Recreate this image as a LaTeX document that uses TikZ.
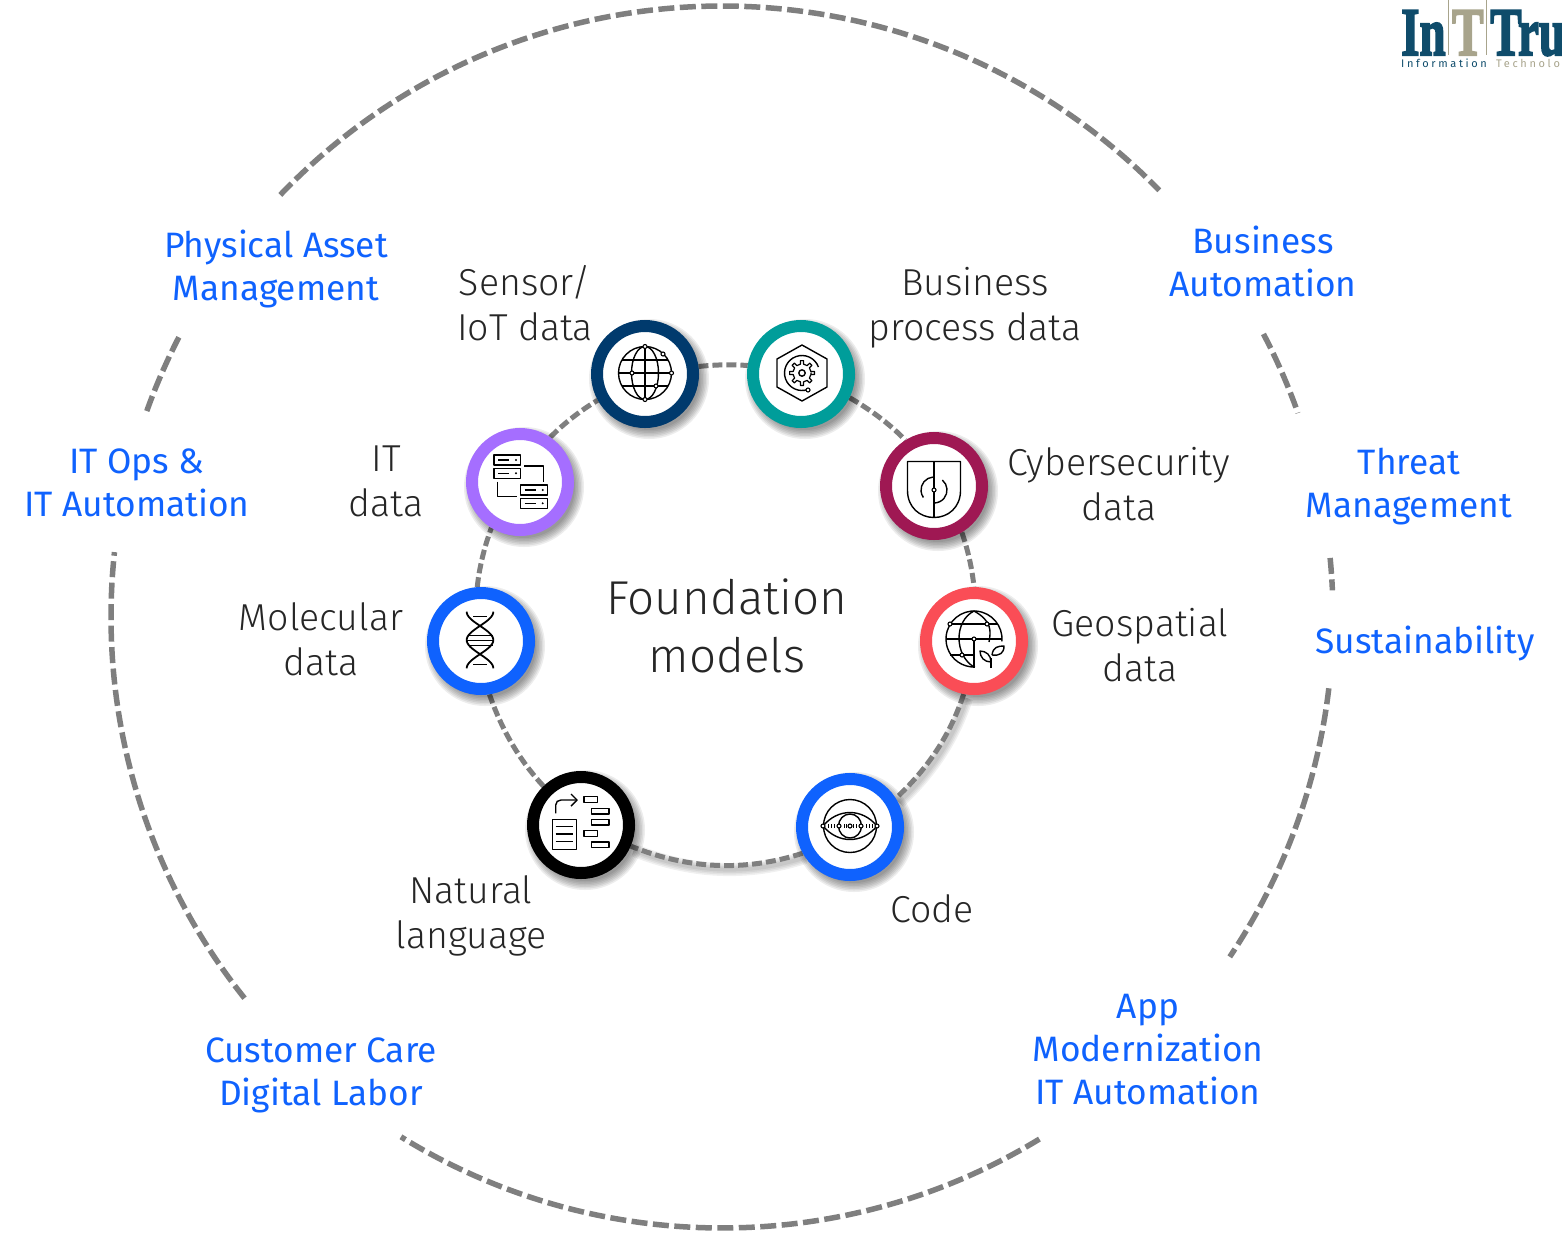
\documentclass[tikz,border=0pt]{standalone}
\usepackage{fontspec}
\setmainfont{Fira Sans}
\newfontfamily\lightf{Fira Sans Light}
\newfontfamily\logof[UprightFont=* Bold,FakeBold=3]{Liberation Serif}
\usetikzlibrary{backgrounds}
\definecolor{lblue}{HTML}{0F62FE}
\definecolor{ldark}{HTML}{262626}
\definecolor{dashgray}{HTML}{7F7F7F}
\definecolor{logoblue}{HTML}{0F4C6B}
\definecolor{logotan}{HTML}{A8A48C}
\definecolor{cnavy}{HTML}{003A6D}
\definecolor{cteal}{HTML}{009D9A}
\definecolor{cwine}{HTML}{9F1853}
\definecolor{ccoral}{HTML}{FA4D56}
\definecolor{cviolet}{HTML}{A56EFF}
\tikzset{
  x=1pt,y=-1pt,
  outerdash/.style={draw=dashgray,line width=5.5pt,dash pattern=on 16pt off 5.5pt},
  innerdash/.style={draw=dashgray,line width=5pt,dash pattern=on 10pt off 4pt},
  innershade/.style={draw=black,opacity=0.06,transform canvas={shift={(3pt,-4pt)}}},
  ringnode/.style={circle,draw=#1,line width=12pt,fill=white,minimum size=96pt,inner sep=0pt},
  bluelabel/.style={text=lblue,align=center,font=\fontsize{35.3}{43}\selectfont},
  darklabel/.style={text=ldark,align=center,font=\lightf\fontsize{37.5}{45}\selectfont},
  icon/.style={draw=black,line width=1.4pt,line join=round},
  dot/.style={draw=black,fill=white,line width=1.1pt},
}
\newcommand{\ringat}[4]{%
  \foreach \r in {60,58.5,...,50}{\fill[black,opacity=0.07] (#2+4,#3+5) circle[radius=\r pt];}
  \node[ringnode=#4] (#1) at (#2,#3) {};}
\newcommand{\srv}[2]{%
  \draw[icon] (#1,#2) rectangle ++(26.7,10);
  \draw[icon] (#1+4,#2+5) -- ++(11,0);
  \fill (#1+22,#2+5) circle[radius=1.1pt];}
\newcommand{\outerarc}[2]{%
  \draw[outerdash] ([shift={(#1:611pt)}]oc) arc[start angle=#1,end angle=#2,radius=611pt];}
\begin{document}
\begin{tikzpicture}
\useasboundingbox (0,0) rectangle (1562,1232);
\clip (0,0) rectangle (1562,1232);
\coordinate (oc) at (722,617);
% outer arcs
\outerarc{136.3}{44.3}
\outerarc{27.6}{19.5}
\outerarc{5.55}{2.5}
\outerarc{-6.7}{-33.8}
\outerarc{-58.7}{-121.7}
\outerarc{218.6}{173.9}
\outerarc{160.3}{152.4}
% rings
\ringat{n1}{645}{374}{cnavy}
\ringat{n2}{801}{374}{cteal}
\ringat{n3}{934}{486}{cwine}
\ringat{n4}{974}{641}{ccoral}
\ringat{n5}{850}{827}{lblue}
\ringat{n6}{581}{825}{black}
\ringat{n7}{481}{641}{lblue}
\ringat{n8}{520}{482}{cviolet}
% inner connectors
\begin{pgfonlayer}{background}
\foreach \w in {13,10,7,4}{
  \draw[innershade,line width=\w pt] (n4.-101) to[out=-108,in=43,looseness=0.89] (n5.32);
  \draw[innershade,line width=\w pt] (n5.209) to[out=-162,in=-22,looseness=0.91] (n6.-23);
}
\draw[innerdash] (n1.8) to[out=6,in=175,looseness=0.85] (n2.171);
\draw[innerdash] (n2.-26) to[out=-30,in=134,looseness=0.86] (n3.122);
\draw[innerdash] (n3.-59) to[out=-71,in=96,looseness=0.86] (n4.90);
\draw[innerdash] (n4.-101) to[out=-108,in=43,looseness=0.89] (n5.32);
\draw[innerdash] (n5.209) to[out=-162,in=-22,looseness=0.91] (n6.-23);
\draw[innerdash] (n6.134) to[out=133,in=289,looseness=0.87] (n7.-81);
\draw[innerdash] (n7.94) to[out=84,in=250,looseness=0.86] (n8.238);
\draw[innerdash] (n8.56) to[out=45,in=211,looseness=0.86] (n1.209);
\end{pgfonlayer}
% icon n1: globe
\draw[icon] (645,373) circle[radius=26.5pt];
\draw[icon] (645,373) ellipse[x radius=13.5pt,y radius=26.5pt];
\draw[icon] (645,346.5) -- (645,399.5);
\draw[icon] (618.5,373) -- (671.5,373);
\draw[icon] (622,360) -- (668,360);
\draw[icon] (622,386) -- (668,386);
\foreach \a/\b in {645/346.5,645/399.5,632/373,671.5/373,656/386,663/354}{\draw[dot] (\a,\b) circle[radius=2pt];}
% icon n2: hexagon and gear
\begin{scope}[shift={(802,373)}]
\draw[icon] (0,-28) -- (25,-14) -- (25,14) -- (0,28) -- (-25,14) -- (-25,-14) -- cycle;
\draw[icon,line width=1.2pt] (0:9pt) \foreach \a in {0,45,...,315}{ -- (\a-10:9pt) -- (\a-7:12.5pt) -- (\a+7:12.5pt) -- (\a+10:9pt) -- (\a+35:9pt)} -- cycle;
\draw[icon] (0,0) circle[radius=3.2pt];
\draw[icon] (-70:17.5pt) arc[start angle=-70,end angle=-340,radius=17.5pt];
\draw[dot] (6,17) circle[radius=2pt];
\end{scope}
% icon n3: shield
\begin{scope}[shift={(934,485.5)}]
\draw[icon] (-26.5,-24) -- (26.5,-24) -- (26.5,5) .. controls (26.5,22) and (14,32) .. (0,32) .. controls (-14,32) and (-26.5,22) .. (-26.5,5) -- cycle;
\draw[icon] (0,-24) -- (0,32);
\draw[icon] (0,4.5) ++(95:13pt) arc[start angle=95,end angle=215,radius=13pt];
\draw[icon] (0,4.5) ++(50:13pt) arc[start angle=50,end angle=-90,radius=13pt];
\draw[dot] (0,4.5) circle[radius=2pt];
\end{scope}
% icon n4: globe and leaf
\begin{scope}[shift={(974,639)}]
\draw[icon] (-5:28pt) arc[start angle=-5,end angle=272,radius=28pt];
\draw[icon] (0,-28) .. controls (-20,-18) and (-20,16) .. (0,28);
\draw[icon] (0,-28) .. controls (18,-18) and (17,-8) .. (15,3);
\draw[icon] (-28,0) -- (28,0);
\draw[icon] (-24,-15) -- (24,-15);
\draw[icon] (-24,16) -- (0,16);
\draw[icon] (0,0) -- (0,29);
\foreach \a/\b in {-24/-15,13/-15,0/0,-12/16}{\draw[dot] (\a,\b) circle[radius=2pt];}
\draw[icon] (17,29) -- (17,19);
\draw[icon] (17,23) .. controls (10,23) and (6,18) .. (6,12) .. controls (12,12) and (17,16) .. (17,23);
\draw[icon] (18,16) .. controls (19,8) and (24,7) .. (30,7) .. controls (30,14) and (26,17) .. (18,16);
\end{scope}
% icon n5: eye
\begin{scope}[shift={(850,826)}]
\draw[icon] (0,0) circle[radius=26.5pt];
\draw[icon] (-27,0) .. controls (-12,-18) and (12,-18) .. (27,0) .. controls (12,18) and (-12,18) .. (-27,0);
\draw[icon] (0,0) ellipse[x radius=11.5pt,y radius=12pt];
\foreach \a in {-22,-19,-16,-6,-3.5,3.5,6,16,19,22}{\draw[icon,line width=1pt] (\a,-2) -- (\a,2);}
\foreach \a in {-27,-11,0,11,27}{\draw[dot] (\a,0) circle[radius=2pt];}
\end{scope}
% icon n6: flow document
\draw[icon] (552.3,819.3) rectangle (576.7,849.3);
\draw[icon] (555.7,826.7) -- (573.3,826.7);
\draw[icon] (555.7,834) -- (573.3,834);
\draw[icon] (555.7,841.7) -- (573.3,841.7);
\draw[icon] (555.7,813.3) -- (555.7,805) .. controls (555.7,802) and (558,800) .. (561,800) -- (577,800);
\draw[icon] (571,794) -- (577,800) -- (571,806);
\draw[icon] (584,796.7) rectangle (597.7,802.3);
\draw[icon] (591.7,808.3) rectangle (609,814);
\draw[icon] (591.7,819.3) rectangle (609,825);
\draw[icon] (584,830.7) rectangle (597.7,836.3);
\draw[icon] (591.7,842) rectangle (609,847.7);
% icon n7: DNA
\draw[icon,line width=1.8pt] plot[domain=-180:180,samples=60,smooth] ({480+13.3*cos(\x)},{640+\x/180*28.3});
\draw[icon,line width=1.8pt] plot[domain=-180:180,samples=60,smooth] ({480-13.3*cos(\x)},{640+\x/180*28.3});
\foreach \t/\h in {-5/12.5,0/13,5/12.5,-24/7,24/7}{\draw[icon,line width=1pt] (480-\h,640+\t) -- (480+\h,640+\t);}
% icon n8: servers
\srv{494}{455}
\srv{494}{468.3}
\srv{520.7}{485}
\srv{520.7}{498.3}
\draw[icon] (524.3,466) -- (543.3,466) -- (543.3,481.7);
\draw[icon] (497.7,481.7) -- (497.7,496.7) -- (516.7,496.7);
% labels
\node[darklabel,font=\lightf\fontsize{47.5}{58}\selectfont] (tc) at (727,626) {Foundation\\models};
\node[darklabel] (t1) at (525,303) {Sensor/\\IoT data};
\node[darklabel] (t2) at (975,308) {Business\\process data};
\node[darklabel] (t3) at (1119,484) {Cybersecurity\\data};
\node[darklabel] (t4) at (1140,645) {Geospatial\\data};
\node[darklabel] (t5) at (932,909) {Code};
\node[darklabel] (t6) at (471,916) {Natural\\language};
\node[darklabel] (t7) at (321,639) {Molecular\\data};
\node[darklabel] (t8) at (386,481.5) {IT\\data};
\node[bluelabel] (b1) at (276,268.5) {Physical Asset\\Management};
\node[bluelabel] (b2) at (1263,261) {Business\\Automation};
\node[bluelabel] (b3) at (1409,487) {Threat\\Management};
\node[bluelabel] (b4) at (1425,643) {Sustainability};
\node[bluelabel] (b5) at (1148,1050) {App\\Modernization\\IT Automation};
\node[bluelabel] (b6) at (321,1075) {Customer Care\\Digital Labor};
\node[bluelabel] (b7) at (137,483) {IT Ops \&\\IT Automation};
% logo
\draw[logotan,line width=1pt] (1448,0) -- (1448,55);
\draw[logotan,line width=1pt] (1486,0) -- (1486,55);
\node[anchor=base west,inner sep=0,text=logoblue,font=\logof\fontsize{68}{68}\selectfont] (l1) at (1401,55) {\scalebox{0.69}[1]{In}};
\node[anchor=base west,inner sep=0,text=logotan,font=\logof\fontsize{68}{68}\selectfont] (l2) at (1452,55) {\scalebox{0.69}[1]{T}};
\node[anchor=base west,inner sep=0,text=logoblue,font=\logof\fontsize{68}{68}\selectfont] (l3) at (1490,55) {\scalebox{0.69}[1]{Tru}};
\node[anchor=base west,inner sep=0,text=logoblue,font=\fontsize{11}{11}\selectfont] (l4) at (1401,67) {\addfontfeature{LetterSpace=24}Information};
\node[anchor=base west,inner sep=0,text=logotan,font=\fontsize{11}{11}\selectfont] (l5) at (1496,67) {\addfontfeature{LetterSpace=24}Technolo};
\end{tikzpicture}
\end{document}
